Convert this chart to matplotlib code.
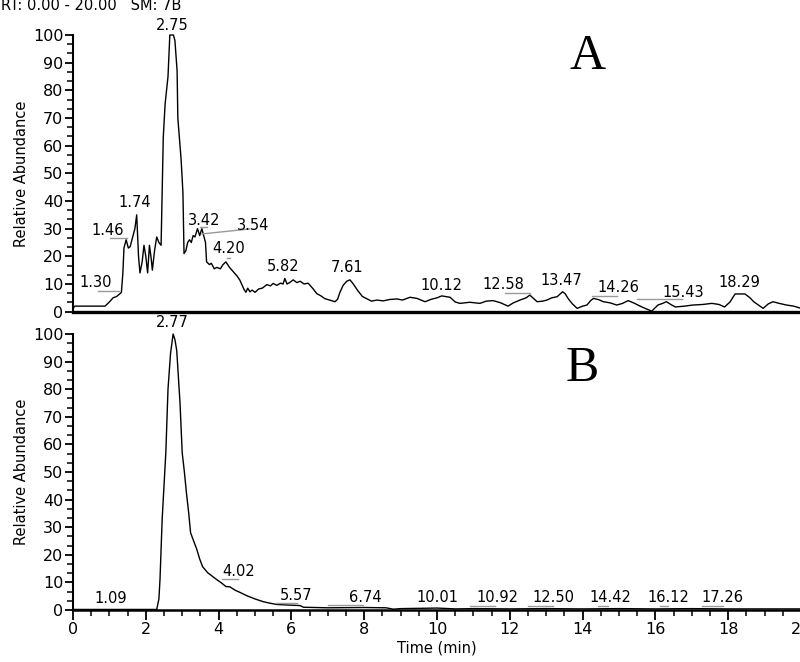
import matplotlib
matplotlib.use("Agg")
import matplotlib.pyplot as plt
from matplotlib.ticker import MultipleLocator, AutoMinorLocator

plt.rcParams['font.family'] = ['DejaVu Sans']

# --- trace A (retention time in min, relative abundance) ---
t_a = [0.00, 0.05, 0.88, 1.00, 1.10, 1.20, 1.29, 1.33, 1.37, 1.40, 1.46, 1.52, 1.57,
       1.64, 1.70, 1.75, 1.80, 1.84, 1.90, 1.95, 2.00, 2.05, 2.10, 2.15, 2.18, 2.24,
       2.30, 2.36, 2.42, 2.45, 2.48, 2.53, 2.61, 2.66, 2.76, 2.80, 2.86, 2.88, 2.97,
       3.02, 3.05, 3.10, 3.15, 3.20, 3.25, 3.30, 3.35, 3.42, 3.48, 3.54, 3.60, 3.64,
       3.67, 3.75, 3.80, 3.88, 3.95, 4.05, 4.12, 4.20, 4.30, 4.40, 4.50, 4.58, 4.65,
       4.70, 4.75, 4.80, 4.86, 4.92, 5.00, 5.10, 5.20, 5.33, 5.42, 5.50, 5.60, 5.70,
       5.77, 5.82, 5.88, 5.95, 6.05, 6.15, 6.24, 6.35, 6.46, 6.58, 6.70, 6.80, 6.92,
       7.05, 7.20, 7.27, 7.33, 7.42, 7.52, 7.61, 7.70, 7.83, 7.95, 8.07, 8.20, 8.35,
       8.52, 8.70, 8.90, 9.05, 9.26, 9.45, 9.67, 9.85, 10.00, 10.13, 10.36, 10.50,
       10.63, 10.90, 11.18, 11.35, 11.54, 11.75, 11.95, 12.10, 12.28, 12.45, 12.55,
       12.75, 12.90, 13.02, 13.15, 13.30, 13.45, 13.52, 13.60, 13.72, 13.85, 14.00,
       14.12, 14.22, 14.30, 14.45, 14.57, 14.75, 14.94, 15.10, 15.25, 15.43, 15.58,
       15.75, 15.90, 16.07, 16.20, 16.30, 16.45, 16.55, 16.80, 17.03, 17.30, 17.55,
       17.75, 17.90, 18.05, 18.19, 18.46, 18.60, 18.70, 18.85, 18.96, 19.10, 19.23,
       19.40, 19.60, 19.80, 20.00]
v_a = [1.2, 2.0, 2.0, 3.5, 5.0, 5.5, 6.5, 7.0, 14, 23, 26, 23, 23.5,
       27, 30, 35, 20, 14, 18, 24, 20, 14, 24, 19, 15, 22,
       27, 25, 24, 43, 63, 75, 85, 100, 100, 98, 87, 70, 55,
       43, 21, 22, 25, 26, 25, 27.5, 27, 30, 27.5, 30, 27, 25,
       18, 17, 17.5, 15.5, 16, 15.5, 17, 18, 16, 14.5, 13, 11.5, 9.5,
       8, 7, 8.5, 7.2, 7.8, 7.0, 8.2, 8.5, 9.8, 9.3, 10.2, 9.5, 10.3,
       10, 12, 10, 10.5, 11.5, 10.5, 11, 10, 10.3, 8.5, 6.5, 5.8, 4.7,
       4.2, 3.6, 4.5, 6.9, 9.5, 11, 11.5, 10, 7.5, 5.5, 4.7, 3.8, 4.2,
       3.9, 4.4, 4.6, 4.2, 5.2, 4.8, 3.6, 4.5, 5.0, 5.7, 5.2, 3.5,
       3.0, 3.4, 3.0, 3.8, 4.0, 3.2, 2.0, 3.2, 4.2, 5.0, 6.0,
       3.6, 3.8, 4.2, 5.0, 5.4, 7.2, 6.5, 4.8, 2.8, 1.2, 2.0,
       2.4, 4.0, 4.8, 4.3, 3.6, 3.2, 2.4, 3.0, 4.0, 3.0, 2.0,
       1.0, 0.2, 2.4, 3.0, 3.6, 2.4, 1.7, 2.0, 2.4, 2.6, 3.0,
       2.6, 1.7, 3.5, 6.4, 6.4, 5.0, 3.6, 2.2, 1.2, 2.8, 3.6,
       3.0, 2.4, 2.0, 1.2]

# --- trace B ---
t_b = [0.00, 2.30, 2.36, 2.39, 2.45, 2.50, 2.55, 2.61, 2.68, 2.75, 2.80, 2.85, 2.94,
       3.00, 3.06, 3.12, 3.18, 3.23, 3.30, 3.40, 3.48, 3.56, 3.70, 3.85, 3.95, 4.08,
       4.20, 4.31, 4.45, 4.60, 4.77, 5.00, 5.23, 5.40, 5.60, 5.90, 6.24, 6.33, 7.00,
       8.00, 8.60, 8.80, 9.00, 9.50, 10.00, 10.50, 11.00, 12.00, 13.00, 14.00, 15.00,
       16.00, 17.00, 18.00, 20.00]
v_b = [0.2, 0.2, 4, 11, 33, 45, 57, 80, 93, 100, 98, 94, 75,
       57, 50, 42, 35, 28, 25.5, 22, 18.5, 15.7, 13.5, 12, 11, 9.8,
       8.5, 8.4, 7.2, 6.3, 5.2, 4.0, 3.0, 2.5, 2.0, 1.8, 1.6, 1.0, 0.8,
       0.9, 0.8, 0.3, 0.5, 0.6, 0.7, 0.4, 0.5, 0.4, 0.5, 0.4, 0.5,
       0.4, 0.5, 0.4, 0.4]

# peak labels: text, label x, label y, leader line (x0, x1, y0, y1) or None
labels_a = ["1.30", "1.46", "1.74", "2.75", "3.42", "3.54", "4.20", "5.82", "7.61",
            "10.12", "12.58", "13.47", "14.26", "15.43", "18.29"]
lab_x_a = [0.63, 0.95, 1.70, 2.72, 3.60, 4.95, 4.29, 5.77, 7.53,
           10.11, 11.81, 13.41, 14.97, 16.76, 18.30]
lab_y_a = [10.4, 29.5, 39.3, 103.6, 33.1, 31.3, 22.7, 16.2, 15.8,
           9.6, 10.0, 11.1, 8.6, 7.1, 10.4]
lead_a = [(0.69, 1.26, 7.5, 7.5), (1.02, 1.48, 26.6, 26.6), None, None,
          (3.49, 3.68, 30.6, 30.6), (3.54, 4.86, 28.1, 29.9), (4.23, 4.31, 19.4, 19.4),
          None, None, None, (11.87, 12.55, 6.8, 6.8), None,
          (14.26, 14.95, 5.7, 5.7), (15.49, 16.73, 4.6, 4.6), None]

labels_b = ["2.77", "1.09", "4.02", "5.57", "6.74", "10.01", "10.92", "12.50",
            "14.42", "16.12", "17.26"]
lab_x_b = [2.72, 1.04, 4.56, 6.13, 8.02, 10.00, 11.65, 13.21, 14.75, 16.35, 17.83]
lab_y_b = [104.3, 4.0, 13.8, 5.4, 4.7, 4.7, 4.7, 4.7, 4.7, 4.7, 4.7]
lead_b = [None, None, (4.09, 4.53, 11.2, 11.2), (5.58, 6.15, 2.5, 2.5),
          (7.00, 7.97, 1.8, 1.8), None, (10.90, 11.59, 1.4, 1.4),
          (12.50, 13.19, 1.4, 1.4), (14.42, 14.70, 1.4, 1.4),
          (16.13, 16.35, 1.4, 1.4), (17.28, 17.86, 1.4, 1.4)]

fig = plt.figure(figsize=(8, 6.62), dpi=100)
ax_a = fig.add_axes([73 / 800, 0.5292, 728 / 800, 0.4179])
ax_b = fig.add_axes([73 / 800, 0.07855, 728 / 800, 0.4169])

for ax in (ax_a, ax_b):
    ax.set_xlim(0, 20)
    ax.set_ylim(0, 100)
    ax.spines['top'].set_visible(False)
    ax.spines['right'].set_visible(False)
    ax.spines['left'].set_linewidth(1.5)
    ax.spines['bottom'].set_linewidth(1.8)
    ax.yaxis.set_major_locator(MultipleLocator(10))
    ax.yaxis.set_minor_locator(AutoMinorLocator(3))
    ax.tick_params(axis='y', which='major', length=6, width=1.3, labelsize=11.5, pad=1)
    ax.tick_params(axis='y', which='minor', length=4, width=1.1)
    ax.set_ylabel("Relative Abundance", fontsize=10.5, labelpad=3)

ax_a.tick_params(axis='x', which='both', bottom=False, labelbottom=False)
ax_a.spines['bottom'].set_linewidth(2.4)

ax_b.xaxis.set_major_locator(MultipleLocator(2))
ax_b.xaxis.set_minor_locator(MultipleLocator(0.5))
ax_b.tick_params(axis='x', which='major', length=7, width=1.3, labelsize=11.5, pad=2)
ax_b.tick_params(axis='x', which='minor', length=4.5, width=1.1)
ax_b.set_xlabel("Time (min)", fontsize=10.5, labelpad=2)

ax_a.plot(t_a, v_a, color='black', lw=1.0, clip_on=False)
ax_b.plot(t_b, v_b, color='black', lw=1.0, clip_on=False)

for ax, labs, lx, ly, leads in ((ax_a, labels_a, lab_x_a, lab_y_a, lead_a),
                                (ax_b, labels_b, lab_x_b, lab_y_b, lead_b)):
    for s, x, y, ld in zip(labs, lx, ly, leads):
        ax.text(x, y, s, fontsize=10.5, ha='center', va='center', clip_on=False)
        if ld is not None:
            ax.plot([ld[0], ld[1]], [ld[2], ld[3]], color='#999999', lw=1.0,
                    clip_on=False)

fig.text(588 / 800, 1 - 57 / 662, "A", fontsize=36, ha='center', va='center',
         family=['Liberation Serif', 'DejaVu Serif'])
fig.text(582 / 800, 1 - 369 / 662, "B", fontsize=36, ha='center', va='center',
         family=['Liberation Serif', 'DejaVu Serif'])
fig.text(1 / 800, 1 - 6 / 662, "RT: 0.00 - 20.00   SM: 7B", fontsize=10.5,
         ha='left', va='center')

fig.savefig("out.png", dpi=100)
